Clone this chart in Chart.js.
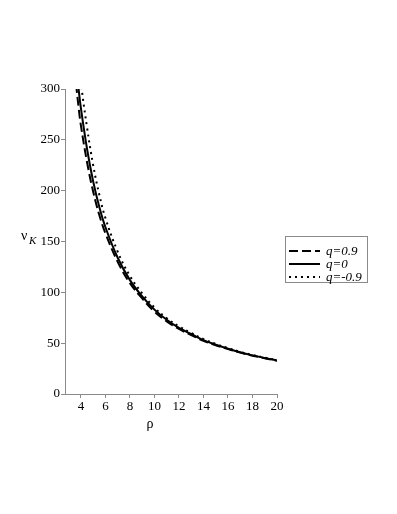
<!DOCTYPE html>
<html>
<head>
<meta charset="utf-8">
<script src="https://cdn.jsdelivr.net/npm/chart.js@4.4.0/dist/chart.umd.min.js"></script>
<style>
  html, body { margin: 0; padding: 0; background: #fff; }
  canvas { display: block; }
</style>
</head>
<body>
<canvas id="chart" width="397" height="514"></canvas>
<script>
var rho = [3.6, 3.8, 4, 4.5, 5, 5.5, 6, 7, 8, 9, 10, 11, 12, 13, 14, 15, 16, 17, 18, 19, 20];
var nuDash = [305, 283, 264, 228, 199, 176, 158, 130, 109, 94, 81, 71.5, 64, 58, 52.3, 48, 44.2, 40.7, 37.7, 35.2, 32.8];
var nuSolid = [324, 301, 281, 241, 209, 184, 164, 134, 112, 96, 83, 73, 65, 59, 53, 48.5, 44.6, 41, 38, 35.4, 33];
var nuDot = [355, 330, 306, 262, 225, 196, 173, 140, 116, 99, 85, 74.5, 66.5, 60, 54, 49.2, 45.2, 41.5, 38.4, 35.7, 33.3];
var seriesNames = ['q=0.9', 'q=0', 'q=-0.9'];
var xTicks = [4, 6, 8, 10, 12, 14, 16, 18, 20];
var yTicks = [0, 50, 100, 150, 200, 250, 300];

function pts(ys) {
  return rho.map(function (x, i) { return { x: x, y: ys[i] }; });
}

var axisGray = '#8a8a8a';
var serif = '"Liberation Serif", "DejaVu Serif", serif';

// legend box + axis titles drawn by hand
var extras = {
  id: 'extras',
  afterDraw: function (chart) {
    var c = chart.ctx;
    c.save();
    // y title
    c.fillStyle = '#000';
    c.font = '14px ' + serif;
    c.textBaseline = 'alphabetic';
    c.fillText('\u03bd', 21, 240);
    c.font = 'italic 11px ' + serif;
    c.fillText('K', 29, 244);
    // x title
    c.font = '14px ' + serif;
    c.textAlign = 'center';
    c.fillText('\u03c1', 150, 428);
    // legend
    c.textAlign = 'left';
    c.strokeStyle = axisGray;
    c.lineWidth = 1;
    c.strokeRect(285.5, 236.5, 82, 46);
    chart.data.datasets.forEach(function (ds, i) {
      var yy = 251 + i * 13;
      c.strokeStyle = '#000';
      c.lineWidth = 2;
      c.setLineDash(ds.borderDash || []);
      c.beginPath();
      c.moveTo(289, yy);
      c.lineTo(320, yy);
      c.stroke();
      c.setLineDash([]);
      c.fillStyle = '#000';
      c.font = 'italic 13px ' + serif;
      c.textBaseline = 'middle';
      c.fillText(ds.label, 326, yy + 1);
    });
    c.restore();
  }
};

var ctx = document.getElementById('chart');
var chart = new Chart(ctx, {
  type: 'line',
  data: {
    datasets: [
      { label: seriesNames[0], data: pts(nuDash), borderColor: '#000', borderWidth: 2, borderDash: [9, 4], pointRadius: 0, tension: 0.4, fill: false },
      { label: seriesNames[1], data: pts(nuSolid), borderColor: '#000', borderWidth: 2, pointRadius: 0, tension: 0.4, fill: false },
      { label: seriesNames[2], data: pts(nuDot), borderColor: '#000', borderWidth: 2, borderDash: [2, 4], pointRadius: 0, tension: 0.4, fill: false }
    ]
  },
  options: {
    responsive: false,
    animation: false,
    layout: { padding: { left: 0, top: 89, right: 120, bottom: 0 } },
    plugins: { legend: { display: false }, tooltip: { enabled: false } },
    scales: {
      x: {
        type: 'linear',
        min: 2.7,
        max: 20,
        afterBuildTicks: function (s) { s.ticks = xTicks.map(function (v) { return { value: v }; }); },
        afterFit: function (s) { s.height = 120; },
        border: { display: true, color: axisGray, width: 1 },
        grid: { drawOnChartArea: false, drawTicks: true, tickLength: 4, color: axisGray },
        ticks: { color: '#000', font: { family: serif, size: 13 }, padding: 1, maxRotation: 0 }
      },
      y: {
        min: 0,
        max: 300,
        afterBuildTicks: function (s) { s.ticks = yTicks.map(function (v) { return { value: v }; }); },
        afterFit: function (s) { s.width = 65; },
        border: { display: true, color: axisGray, width: 1 },
        grid: { drawOnChartArea: false, drawTicks: true, tickLength: 4, color: axisGray },
        ticks: { color: '#000', font: { family: serif, size: 13 }, padding: 1 }
      }
    }
  },
  plugins: [extras]
});
</script>
</body>
</html>
